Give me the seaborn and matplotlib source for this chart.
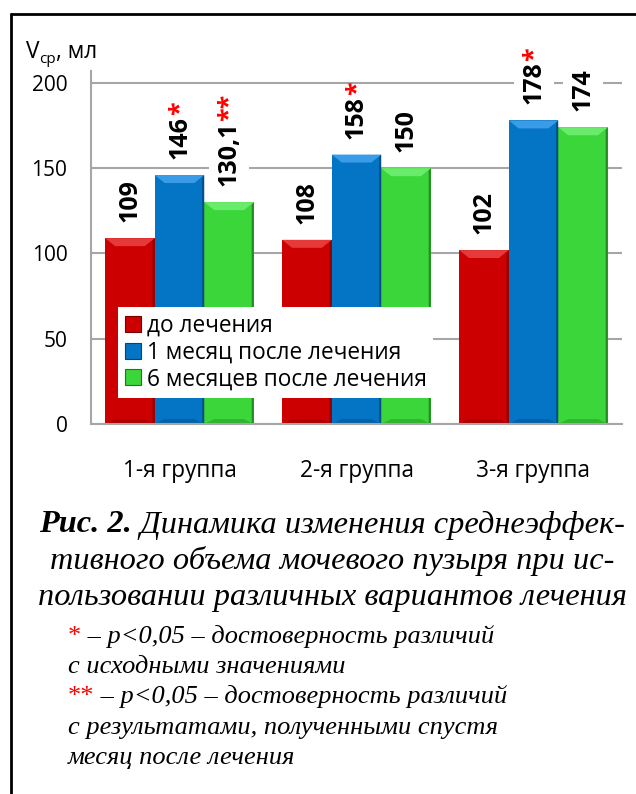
import numpy as np
import pandas as pd
import matplotlib
matplotlib.use("Agg")
import matplotlib.pyplot as plt
import seaborn as sns
from matplotlib.patches import Polygon, Patch
from matplotlib.lines import Line2D

# ---- data ----
groups = ["1-я группа", "2-я группа", "3-я группа"]
periods = ["до лечения", "1 месяц после лечения", "6 месяцев после лечения"]
before = [109, 108, 102]
month1 = [146, 158, 178]
month6 = [130.1, 150, 174]
labels_before = ["109", "108", "102"]
labels_month1 = ["146", "158", "178"]
labels_month6 = ["130,1", "150", "174"]
stars_before = ["", "", ""]
stars_month1 = ["*", "*", "*"]
stars_month6 = ["**", "", ""]
yticks = [0, 50, 100, 150, 200]
colors = ["#CC0000", "#0474C4", "#3AD63A"]
dark = ["#7A0000", "#03447A", "#1C7A1C"]
light = ["#E63A3A", "#3A9BE6", "#6BEB6B"]

ylabel_main = "V"
ylabel_sub = "ср"
ylabel_tail = ", мл"
caption_bold = "Рис. 2."
caption_lines = [" Динамика изменения среднеэффек-",
                 "тивного объема мочевого пузыря при ис-",
                 "пользовании различных вариантов лечения"]
notes = [("*", " – p<0,05 – достоверность различий"),
         ("", "с исходными значениями"),
         ("**", " – p<0,05 – достоверность различий"),
         ("", "с результатами, полученными спустя"),
         ("", "месяц после лечения")]

sns.set_theme(style="white")
plt.rcParams["font.family"] = ["Open Sans", "DejaVu Sans"]
plt.rcParams["text.color"] = "black"

W, H = 636, 794
fig = plt.figure(figsize=(W / 100, H / 100), dpi=100)
ax_l, ax_r, ax_b, ax_t = 91, 622, 424, 71
ax = fig.add_axes([ax_l / W, 1 - ax_b / H, (ax_r - ax_l) / W, (ax_b - ax_t) / H])

df = pd.DataFrame({
    "group": groups * 3,
    "period": np.repeat(periods, len(groups)),
    "value": before + month1 + month6,
})
sns.barplot(data=df, x="group", y="value", hue="period", order=groups,
            hue_order=periods, palette=colors, saturation=1, width=0.84,
            errorbar=None, ax=ax, legend=False, zorder=2,
            edgecolor="none")

ymax = 207
ax.set_ylim(0, ymax)
ax.set_yticks(yticks)
ax.set_xlabel("")
ax.set_ylabel("")
ax.set_axisbelow(True)
ax.yaxis.grid(True, color="#A6A6A6", lw=1.5)
ax.xaxis.grid(False)
for s in ["top", "right"]:
    ax.spines[s].set_visible(False)
for s in ["left", "bottom"]:
    ax.spines[s].set_color("#A6A6A6")
    ax.spines[s].set_linewidth(1.5)
ax.tick_params(axis="y", length=0, pad=17, labelsize=15, labelcolor="black")
ax.tick_params(axis="x", length=0, pad=25, labelsize=16.3, labelcolor="black")

# bevel effect derived from bar geometry
px2y = ymax / (ax_b - ax_t)
for ci, cont in enumerate(ax.containers):
    for rect in cont:
        x, w, h = rect.get_x(), rect.get_width(), rect.get_height()
        dx = w * 0.2
        dyt = 8 * px2y
        dyb = 5 * px2y
        ax.add_patch(Polygon([(x, h), (x + w, h), (x + w - dx, h - dyt), (x + dx, h - dyt)],
                             closed=True, facecolor=light[ci], edgecolor="none", zorder=2.1))
        ax.add_patch(Polygon([(x, 0), (x + w, 0), (x + w - dx, dyb), (x + dx, dyb)],
                             closed=True, facecolor=dark[ci], alpha=0.35, edgecolor="none", zorder=2.1))
        ax.add_patch(Polygon([(x + w, 0), (x + w, h), (x + w - 0.012, h - dyt * 0.3), (x + w - 0.012, 0)],
                             closed=True, facecolor=dark[ci], alpha=0.8, edgecolor="none", zorder=2.2))

# legend
handles = [Patch(facecolor=c, edgecolor=d, lw=0.8) for c, d in zip(colors, dark)]
leg = ax.legend(handles, periods, loc="upper left",
                bbox_to_anchor=((118 - ax_l) / (ax_r - ax_l), (ax_b - 307) / (ax_b - ax_t)),
                borderaxespad=0, frameon=True, fancybox=False, framealpha=1,
                edgecolor="none", facecolor="white", fontsize=16.3,
                handlelength=0.72, handleheight=0.72, handletextpad=0.25,
                labelspacing=0.12, borderpad=0.3)
leg.set_zorder(5)
for txt in leg.get_texts():
    txt.set_color("black")

# value labels
all_labels = [labels_before, labels_month1, labels_month6]
all_stars = [stars_before, stars_month1, stars_month6]
lab_font = dict(fontsize=18, fontweight="bold", rotation=90, ha="center", va="bottom")
offset = 11.5
texts = []
for ci, cont in enumerate(ax.containers):
    for bi, rect in enumerate(cont):
        xc = rect.get_x() + rect.get_width() / 2
        h = rect.get_height()
        t = ax.annotate(all_labels[ci][bi], xy=(xc, h), xytext=(0, offset),
                        textcoords="offset points", color="black", zorder=6,
                        bbox=dict(boxstyle="square,pad=0.3", facecolor="white", edgecolor="none"),
                        **lab_font)
        texts.append((t, xc, h, all_stars[ci][bi]))

fig.canvas.draw()
r = fig.canvas.get_renderer()
for t, xc, h, st in texts:
    if not st:
        continue
    bb = t.get_window_extent(r)
    length_pt = bb.height * 72 / fig.dpi
    ax.annotate(st, xy=(xc, h), xytext=(0, offset + length_pt + 0.5),
                textcoords="offset points", color="#FF0000", zorder=7,
                **lab_font)

# y axis title
tv = fig.text(26 / W, 1 - 58 / H, ylabel_main, fontsize=16.3, va="baseline")
fig.canvas.draw()
bbv = tv.get_window_extent(r)
tsub = fig.text(bbv.x1 / W, 1 - 58 / H - 5 / H, ylabel_sub, fontsize=11, va="baseline")
fig.canvas.draw()
bbs = tsub.get_window_extent(r)
fig.text(bbs.x1 / W, 1 - 58 / H, ylabel_tail, fontsize=16.3, va="baseline")

# caption
serif = "Liberation Serif"
cx = 332
cap_size = 23.3
cap_y = [525, 561, 597]
tb = fig.text(0, 1 - cap_y[0] / H, caption_bold, family=serif, style="italic",
              weight="bold", fontsize=cap_size, va="center", color="black")
ti = fig.text(0, 1 - cap_y[0] / H, caption_lines[0], family=serif, style="italic",
              fontsize=cap_size, va="center", color="black")
fig.canvas.draw()
w1 = tb.get_window_extent(r).width
w2 = ti.get_window_extent(r).width
x0 = cx - (w1 + w2) / 2
tb.set_x(x0 / W)
ti.set_x((x0 + w1) / W)
for line, y in zip(caption_lines[1:], cap_y[1:]):
    fig.text(cx / W, 1 - y / H, line, family=serif, style="italic",
             fontsize=cap_size, va="center", ha="center", color="black")

# notes
note_y = [637, 667, 697, 728, 758]
note_x = 68
note_size = 19
for (st, txt), y in zip(notes, note_y):
    xpos = note_x
    if st:
        ts = fig.text(xpos / W, 1 - y / H, st, family=serif, color="#FF0000",
                      fontsize=note_size, va="center")
        fig.canvas.draw()
        xpos += ts.get_window_extent(r).width
    fig.text(xpos / W, 1 - y / H, txt, family=serif, style="italic",
             fontsize=note_size, va="center", color="black")

# frame
fig.add_artist(Line2D([11 / W, 1], [1 - 14 / H, 1 - 14 / H], color="black", lw=2,
                      transform=fig.transFigure))
fig.add_artist(Line2D([11 / W, 11 / W], [0, 1 - 14 / H], color="black", lw=2,
                      transform=fig.transFigure))

fig.savefig("out.png", dpi=100)
